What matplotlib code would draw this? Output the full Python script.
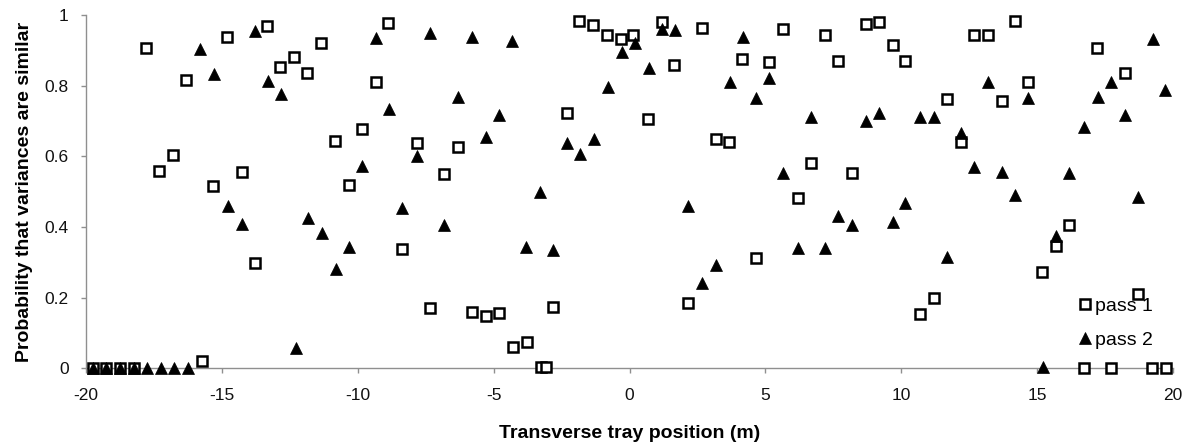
import matplotlib
matplotlib.use("Agg")
import matplotlib.pyplot as plt

plt.rcParams['font.family'] = ['Liberation Sans', 'DejaVu Sans']

# ---- data ----
pass1_x = [-19.75, -19.25, -18.75, -18.25, -17.79, -17.30, -16.79, -16.32, -15.74, -15.31,
           -14.80, -14.27, -13.78, -13.33, -12.86, -12.33, -11.85, -11.36, -10.84, -10.32,
           -9.83, -9.34, -8.87, -8.36, -7.83, -7.34, -6.81, -6.32, -5.80, -5.29,
           -4.79, -4.30, -3.78, -3.24, -3.06, -2.80, -2.31, -1.84, -1.33, -0.81,
           -0.31, 0.14, 0.67, 1.19, 1.65, 2.17, 2.66, 3.17, 3.67, 4.15,
           4.66, 5.14, 5.66, 6.19, 6.67, 7.20, 7.69, 8.18, 8.70, 9.19,
           9.68, 10.14, 10.69, 11.19, 11.68, 12.19, 12.68, 13.21, 13.70, 14.19,
           14.68, 15.19, 15.69, 16.19, 16.71, 17.20, 17.73, 18.22, 18.73, 19.22, 19.74]
pass1_y = [0, 0, 0, 0, 0.906, 0.559, 0.604, 0.816, 0.021, 0.516,
           0.939, 0.556, 0.299, 0.969, 0.852, 0.882, 0.835, 0.920, 0.644, 0.518,
           0.676, 0.811, 0.978, 0.337, 0.637, 0.170, 0.549, 0.627, 0.160, 0.148,
           0.156, 0.061, 0.075, 0.005, 0.005, 0.174, 0.722, 0.984, 0.972, 0.943,
           0.931, 0.943, 0.706, 0.981, 0.858, 0.186, 0.962, 0.648, 0.641, 0.875,
           0.311, 0.868, 0.959, 0.483, 0.582, 0.943, 0.870, 0.554, 0.975, 0.981,
           0.915, 0.871, 0.153, 0.200, 0.761, 0.641, 0.942, 0.942, 0.757, 0.984,
           0.811, 0.273, 0.346, 0.406, 0.0, 0.906, 0.0, 0.837, 0.210, 0.0, 0.0]

pass2_x = [-19.75, -19.25, -18.75, -18.25, -17.74, -17.24, -16.75, -16.26, -15.80, -15.29,
           -14.76, -14.27, -13.78, -13.31, -12.82, -12.27, -11.82, -11.33, -10.80, -10.32,
           -9.83, -9.33, -8.85, -8.36, -7.83, -7.34, -6.81, -6.32, -5.80, -5.29,
           -4.82, -4.33, -3.82, -3.31, -2.82, -2.31, -1.82, -1.30, -0.80, -0.28,
           0.21, 0.70, 1.19, 1.68, 2.14, 2.66, 3.17, 3.68, 4.17, 4.66,
           5.15, 5.64, 6.19, 6.68, 7.20, 7.69, 8.20, 8.70, 9.19, 9.68,
           10.14, 10.69, 11.19, 11.68, 12.19, 12.68, 13.21, 13.70, 14.19, 14.68,
           15.23, 15.69, 16.18, 16.71, 17.23, 17.71, 18.22, 18.71, 19.25, 19.71]
pass2_y = [0, 0, 0, 0, 0, 0, 0, 0, 0.903, 0.833,
           0.459, 0.408, 0.956, 0.813, 0.775, 0.057, 0.425, 0.382, 0.280, 0.344,
           0.573, 0.934, 0.733, 0.453, 0.601, 0.950, 0.406, 0.769, 0.937, 0.654,
           0.717, 0.925, 0.344, 0.500, 0.335, 0.637, 0.607, 0.648, 0.795, 0.896,
           0.922, 0.849, 0.959, 0.958, 0.459, 0.242, 0.292, 0.811, 0.939, 0.764,
           0.823, 0.554, 0.340, 0.712, 0.340, 0.431, 0.406, 0.701, 0.722, 0.415,
           0.469, 0.712, 0.712, 0.314, 0.665, 0.571, 0.809, 0.556, 0.490, 0.764,
           0.005, 0.374, 0.552, 0.684, 0.769, 0.811, 0.717, 0.486, 0.931, 0.788]

series_labels = ['pass 1', 'pass 2']
x_ticks = [-20, -15, -10, -5, 0, 5, 10, 15, 20]
x_tick_labels = ['-20', '-15', '-10', '-5', '0', '5', '10', '15', '20']
y_ticks = [0, 0.2, 0.4, 0.6, 0.8, 1.0]
y_tick_labels = ['0', '0.2', '0.4', '0.6', '0.8', '1']
x_title = 'Transverse tray position (m)'
y_title = 'Probability that variances are similar'

# ---- figure ----
W, H = 1201, 446
fig = plt.figure(figsize=(W / 100, H / 100), dpi=100)
ax = fig.add_axes([86 / W, (H - 368.3) / H, (1173 - 86) / W, (368.3 - 15) / H])

ax.plot(pass1_x, pass1_y, linestyle='none', marker='s', ms=7.9, mew=1.8,
        mfc='white', mec='black', clip_on=False, zorder=3, label=series_labels[0])
ax.plot(pass2_x, pass2_y, linestyle='none', marker='^', ms=9.2, mew=0.5,
        mfc='black', mec='black', clip_on=False, zorder=4, label=series_labels[1])

ax.set_xlim(-20, 20)
ax.set_ylim(0, 1)
ax.set_xticks(x_ticks)
ax.set_xticklabels(x_tick_labels)
ax.set_yticks(y_ticks)
ax.set_yticklabels(y_tick_labels)

grey = '#8f8f8f'
for s in ['top', 'right']:
    ax.spines[s].set_visible(False)
for s in ['left', 'bottom']:
    ax.spines[s].set_color(grey)
    ax.spines[s].set_linewidth(1.0)
ax.tick_params(axis='both', direction='out', length=3.5, width=1.0, color=grey,
               labelsize=12.5, labelcolor='#111111')
ax.tick_params(axis='y', pad=9)
ax.tick_params(axis='x', pad=11)

ax.set_xlabel(x_title, fontsize=14, fontweight='bold')
ax.set_ylabel(y_title, fontsize=14, fontweight='bold')
ax.xaxis.set_label_coords(0.5, -0.16)
ax.yaxis.set_label_coords(-0.0488, 0.5)

leg = ax.legend(loc='upper left', bbox_to_anchor=(1078 / W, (H - 297.5) / H),
                bbox_transform=fig.transFigure, frameon=False, fontsize=14,
                handlelength=0.7, handletextpad=0.15, labelspacing=0.82,
                borderpad=0, borderaxespad=0, numpoints=1)

fig.savefig('out.png', dpi=100)
